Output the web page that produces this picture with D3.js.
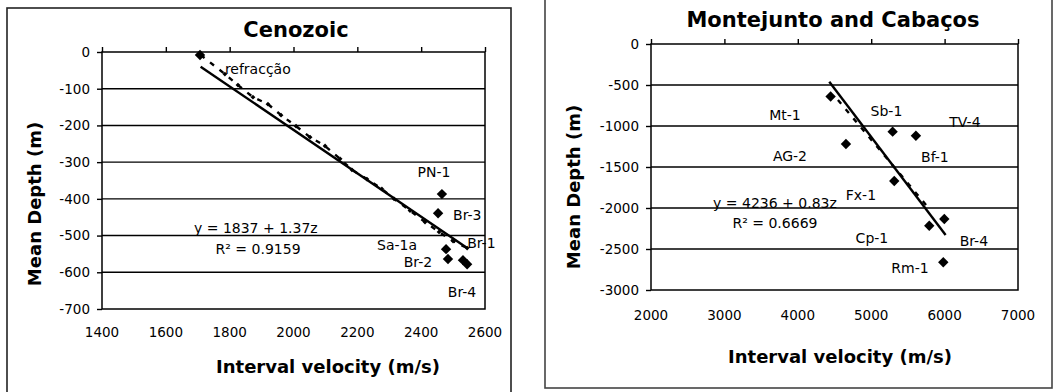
<!DOCTYPE html>
<html><head><meta charset="utf-8">
<script src="https://cdn.jsdelivr.net/npm/d3@7"></script>
<style>body{margin:0;background:#fff}svg{display:block}text{font-family:"DejaVu Sans",sans-serif;fill:#000}</style>
</head><body>
<svg id="c" width="1057" height="392"></svg>
<script>
// ---------- Cenozoic (left) ----------
const cenoXTicks = [1400,1600,1800,2000,2200,2400,2600];
const cenoYTicks = [0,-100,-200,-300,-400,-500,-600,-700];
const cenoWellV = [1707,2465,2453,2478,2484,2531,2544];
const cenoWellZ = [-8,-387,-439,-537,-564,-567,-578];
const cenoRefrV = [1709,1785,1826,1873,1920,1961,2008,2052,2099,2146,2183,2230,2277,2315,2365,2412,2456,2500,2544];
const cenoRefrZ = [-8,-60,-90,-123,-142,-172,-202,-232,-256,-291,-321,-346,-373,-400,-432,-463,-490,-515,-534];
const cenoTrendV = [1709,2544];
const cenoTrendZ = [-40,-534];
const cenoLabels = ["refracção","PN-1","Br-3","Sa-1a","Br-2","Br-1","Br-4"];
const cenoLabelV = [1785,2440,2500,2387,2390,2544,2528];
const cenoLabelZ = [-60,-340,-458,-539,-586,-534,-667];
const cenoLabelAnchor = ["start","middle","start","end","middle","start","middle"];
const cenoEq = ["y = 1837 + 1.37z","R² = 0.9159"];
const cenoEqV = [1882,1889];
const cenoEqZ = [-493,-550];

// ---------- Montejunto and Cabaços (right) ----------
const montXTicks = [2000,3000,4000,5000,6000,7000];
const montYTicks = [0,-500,-1000,-1500,-2000,-2500,-3000];
const montWellV = [4447,4656,5292,5609,5314,5791,5996,5982];
const montWellZ = [-640,-1220,-1069,-1118,-1671,-2216,-2134,-2662];
const montDashV = [4547,5759];
const montDashZ = [-683,-1976];
const montTrendV = [4429,6014];
const montTrendZ = [-460,-2329];
const montLabels = ["Mt-1","AG-2","Sb-1","TV-4","Bf-1","Fx-1","Cp-1","Br-4","Rm-1"];
const montLabelV = [3825,3893,5208,6277,5868,4860,5010,6399,5528];
const montLabelZ = [-927,-1427,-878,-1012,-1439,-1902,-2427,-2463,-2793];
const montEq = ["y = 4236 + 0.83z","R² = 0.6669"];
const montEqV = [3689,3689];
const montEqZ = [-2000,-2244];

const svg = d3.select("#c");

// panel frames
svg.append("rect").attr("x",7).attr("y",8).attr("width",504).attr("height",400)
  .attr("fill","none").attr("stroke","#222").attr("stroke-width",1.6);
svg.append("rect").attr("x",545).attr("y",-4).attr("width",507).attr("height",392)
  .attr("fill","none").attr("stroke","#444").attr("stroke-width",1.6);

function diamond(r){return `M0,${-r}L${r},0L0,${r}L${-r},0Z`;}

function panel(o){
  const g = svg.append("g");
  const x = d3.scaleLinear().domain(o.xDom).range([o.x0,o.x1]);
  const y = d3.scaleLinear().domain(o.yDom).range([o.y0,o.y1]);
  // gridlines
  g.selectAll(".grid").data(o.yTicks.filter(t=>t!==o.yDom[0] && t!==o.yDom[1])).join("line")
    .attr("x1",o.x0).attr("x2",o.x1).attr("y1",d=>y(d)).attr("y2",d=>y(d))
    .attr("stroke","#000").attr("stroke-width",1.4);
  // plot border
  g.append("rect").attr("x",o.x0).attr("y",o.y0).attr("width",o.x1-o.x0).attr("height",o.y1-o.y0)
    .attr("fill","none").attr("stroke","#000").attr("stroke-width",1.5);
  // y axis
  const ya = g.append("g").attr("transform",`translate(${o.x0},0)`)
    .call(d3.axisLeft(y).tickValues(o.yTicks).tickSize(5).tickPadding(7).tickFormat(d=>String(d)));
  ya.select(".domain").remove();
  ya.selectAll("line").attr("stroke","#000").attr("stroke-width",1.4);
  ya.selectAll("text").style("font-size","13.5px").style("font-family","DejaVu Sans").attr("fill","#000");
  // x axis ticks at top (crossing at 0), labels below
  const xa = g.append("g").attr("transform",`translate(0,${o.y0})`)
    .call(d3.axisTop(x).tickValues(o.xTicks).tickSize(5).tickFormat(""));
  xa.select(".domain").remove();
  xa.selectAll("line").attr("stroke","#000").attr("stroke-width",1.4);
  g.selectAll(".xl").data(o.xTicks).join("text")
    .attr("x",d=>x(d)).attr("y",o.xLabY).attr("text-anchor","middle")
    .style("font-size","13.5px").text(d=>String(d));
  // dashed line
  const line = d3.line().x(d=>x(d[0])).y(d=>y(d[1]));
  g.append("path").datum(d3.zip(o.dashV,o.dashZ)).attr("d",line)
    .attr("fill","none").attr("stroke","#000").attr("stroke-width",2.4).attr("stroke-dasharray","5,7");
  if(o.refrMarkers){
    g.selectAll(".rm").data(d3.zip(o.dashV,o.dashZ).slice(1)).join("path")
      .attr("transform",d=>`translate(${x(d[0])},${y(d[1])})`).attr("d",diamond(2.4)).attr("fill","#000");
  }
  // trend line
  g.append("path").datum(d3.zip(o.trendV,o.trendZ)).attr("d",line)
    .attr("fill","none").attr("stroke","#000").attr("stroke-width",2.4);
  // wells
  g.selectAll(".w").data(d3.zip(o.wellV,o.wellZ)).join("path")
    .attr("transform",d=>`translate(${x(d[0])},${y(d[1])})`).attr("d",diamond(5.2)).attr("fill","#000");
  // labels
  g.selectAll(".lab").data(o.labels.map((t,i)=>({t,v:o.labelV[i],z:o.labelZ[i],a:o.anchor?o.anchor[i]:"middle"}))).join("text")
    .attr("x",d=>x(d.v)).attr("y",d=>y(d.z)).attr("text-anchor",d=>d.a)
    .style("font-size","14px").text(d=>d.t);
  // equation
  g.selectAll(".eq").data(o.eq.map((t,i)=>({t,v:o.eqV[i],z:o.eqZ[i]}))).join("text")
    .attr("x",d=>x(d.v)).attr("y",d=>y(d.z)).attr("text-anchor","middle")
    .style("font-size","14px").text(d=>d.t);
  // titles
  g.append("text").attr("x",o.tX).attr("y",o.tY).attr("text-anchor","middle")
    .style("font-size","21px").style("font-weight","bold").text(o.title);
  g.append("text").attr("x",o.xtX).attr("y",o.xtY).attr("text-anchor","middle")
    .style("font-size","18px").style("font-weight","bold").text("Interval velocity (m/s)");
  g.append("text").attr("transform",`translate(${o.ytX},${o.ytY}) rotate(-90)`).attr("text-anchor","middle")
    .attr("dy","0.35em").style("font-size","18px").style("font-weight","bold").text("Mean Depth (m)");
}

panel({xDom:[1400,2600],yDom:[0,-700],x0:102,x1:485,y0:52,y1:309,
  xTicks:cenoXTicks,yTicks:cenoYTicks,xLabY:337,
  wellV:cenoWellV,wellZ:cenoWellZ,dashV:cenoRefrV,dashZ:cenoRefrZ,refrMarkers:true,
  trendV:cenoTrendV,trendZ:cenoTrendZ,
  labels:cenoLabels,labelV:cenoLabelV,labelZ:cenoLabelZ,anchor:cenoLabelAnchor,
  eq:cenoEq,eqV:cenoEqV,eqZ:cenoEqZ,
  title:"Cenozoic",tX:296,tY:37,xtX:328,xtY:373,ytX:35,ytY:204});

panel({xDom:[2000,7000],yDom:[0,-3000],x0:651,x1:1018,y0:44,y1:290,
  xTicks:montXTicks,yTicks:montYTicks,xLabY:320,
  wellV:montWellV,wellZ:montWellZ,dashV:montDashV,dashZ:montDashZ,refrMarkers:false,
  trendV:montTrendV,trendZ:montTrendZ,
  labels:montLabels,labelV:montLabelV,labelZ:montLabelZ,
  eq:montEq,eqV:montEqV,eqZ:montEqZ,
  title:"Montejunto and Cabaços",tX:833,tY:27,xtX:840,xtY:363,ytX:574,ytY:187});
</script>
</body></html>
